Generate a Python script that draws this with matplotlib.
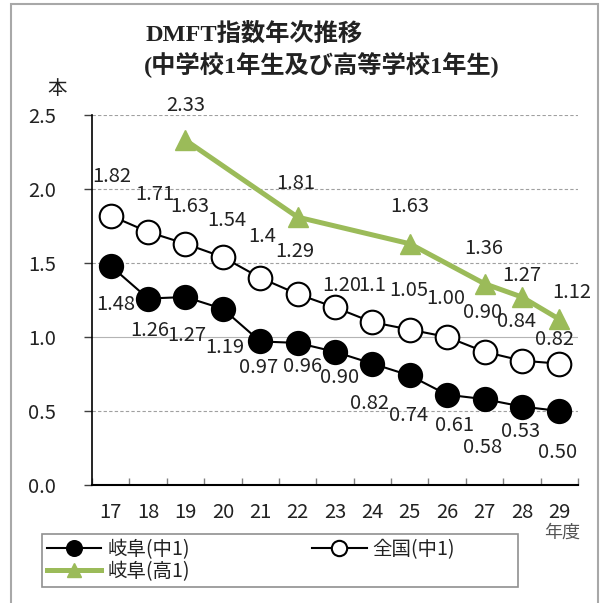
import matplotlib.pyplot as plt
from matplotlib.patches import Rectangle
from matplotlib.ticker import FixedLocator

years = ['17', '18', '19', '20', '21', '22', '23', '24', '25', '26', '27', '28', '29']

gifu_chu = [1.48, 1.26, 1.27, 1.19, 0.97, 0.96, 0.90, 0.82, 0.74, 0.61, 0.58, 0.53, 0.50]
gifu_chu_text = ['1.48', '1.26', '1.27', '1.19', '0.97', '0.96', '0.90', '0.82', '0.74', '0.61', '0.58', '0.53', '0.50']

zenkoku_chu = [1.82, 1.71, 1.63, 1.54, 1.4, 1.29, 1.20, 1.1, 1.05, 1.00, 0.90, 0.84, 0.82]
zenkoku_chu_text = ['1.82', '1.71', '1.63', '1.54', '1.4', '1.29', '1.20', '1.1', '1.05', '1.00', '0.90', '0.84', '0.82']

gifu_ko_years = ['19', '22', '25', '27', '28', '29']
gifu_ko = [2.33, 1.81, 1.63, 1.36, 1.27, 1.12]
gifu_ko_text = ['2.33', '1.81', '1.63', '1.36', '1.27', '1.12']

yticks = [0.0, 0.5, 1.0, 1.5, 2.0, 2.5]

# label offsets in pixels (dx right, dy down)
off_gifu_chu = [(5, 39), (2, 32), (1, 38), (2, 39), (-2, 26), (5, 24), (5, 26),
                (-3, 40), (-1, 40), (7, 31), (-2, 48), (-1, 25), (-2, 41)]
off_zenkoku = [(1, -39), (7, -37), (4, -37), (4, -37), (2, -41), (-3, -43), (7, -22),
               (0, -37), (-1, -39), (-1, -39), (-2, -39), (-5, -39), (-5, -24)]
off_gifu_ko = [(0, -35), (-2, -34), (0, -37), (-1, -35), (0, -22), (12, -27)]

green = '#9BBB59'
num_font = ['Noto Sans CJK JP', 'DejaVu Sans']
jp_font = ['Noto Sans CJK JP', 'DejaVu Sans']
title_font = ['Liberation Serif', 'Noto Sans CJK JP', 'DejaVu Sans']

plt.rcParams['font.family'] = jp_font

fig = plt.figure(figsize=(6.03, 6.03), dpi=100)
W = H = 603.0
ax = fig.add_axes([92 / W, 1 - 485 / H, (578 - 92) / W, (485 - 115) / H])

xpos = list(range(len(years)))
xko = [years.index(y) for y in gifu_ko_years]

ax.plot(xpos, gifu_chu, color='black', lw=1.5, marker='o', ms=17,
        mfc='black', mec='black', mew=1.2, zorder=4, label='岐阜(中1)')
ax.plot(xpos, zenkoku_chu, color='black', lw=1.5, marker='o', ms=17,
        mfc='white', mec='black', mew=1.5, zorder=4, label='全国(中1)')
ax.plot(xko, gifu_ko, color=green, lw=3.6, marker='^', ms=15,
        mfc=green, mec=green, zorder=5, label='岐阜(高1)')


def put_labels(xs, ys, texts, offs):
    for x, y, t, (dx, dy) in zip(xs, ys, texts, offs):
        ax.annotate(t, (x, y), xytext=(dx * 0.72, -dy * 0.72), textcoords='offset points',
                    ha='center', va='center', fontsize=14.5, family=num_font,
                    color='#222222', zorder=6)


put_labels(xpos, gifu_chu, gifu_chu_text, off_gifu_chu)
put_labels(xpos, zenkoku_chu, zenkoku_chu_text, off_zenkoku)
put_labels(xko, gifu_ko, gifu_ko_text, off_gifu_ko)

ax.set_xlim(-0.5, len(years) - 0.5)
ax.set_ylim(0, 2.5)
ax.set_yticks(yticks)
ax.set_yticklabels(['%.1f' % v for v in yticks], family=num_font, fontsize=14.5, color='#222222')
ax.set_xticks(xpos)
ax.set_xticklabels(years, family=num_font, fontsize=14.5, color='#222222')
ax.xaxis.set_minor_locator(FixedLocator([i - 0.5 for i in range(len(years) + 1)]))
ax.tick_params(axis='x', which='major', length=0, pad=12)
ax.tick_params(axis='x', which='minor', direction='in', length=5, width=1, color='#808080')
ax.tick_params(axis='y', which='major', direction='out', length=6, width=1, color='#404040', pad=20)

for s in ['top', 'right']:
    ax.spines[s].set_visible(False)
ax.spines['left'].set_linewidth(1.2)
ax.spines['bottom'].set_linewidth(1.5)

ax.yaxis.grid(True, color='#a0a0a0', lw=0.8, linestyle=(0, (3, 2)))
gl = ax.get_ygridlines()
gl[2].set_linestyle('-')
gl[2].set_color('#b4b4b4')
gl[0].set_visible(False)
ax.set_axisbelow(True)

fig.text(146 / W, 1 - 34 / H, 'DMFT指数年次推移', family=title_font, fontweight='bold',
         fontsize=17.5, ha='left', va='center', color='#222222')
fig.text(144 / W, 1 - 65 / H, '(中学校1年生及び高等学校1年生)', family=title_font, fontweight='bold',
         fontsize=17.5, ha='left', va='center', color='#222222')
fig.text(57 / W, 1 - 88 / H, '本', fontsize=14, ha='center', va='center', color='#222222')
fig.text(562 / W, 1 - 533 / H, '年度', fontsize=13, ha='center', va='center', color='#555555')

h, l = ax.get_legend_handles_labels()
order = [0, 2, 1]
leg = fig.legend([h[i] for i in order], [l[i] for i in order], ncol=2,
                 loc='upper left', bbox_to_anchor=(42 / W, 1 - 534 / H),
                 frameon=False, fontsize=14,
                 handlelength=2.8, handletextpad=0.3, columnspacing=6.3,
                 borderpad=0.25, labelspacing=0.05, markerscale=0.65, borderaxespad=0)
for t in leg.get_texts():
    t.set_color('#222222')

# legend frame and outer chart border
fig.patches.append(Rectangle((42 / W, 1 - 587 / H), (518 - 42) / W, (587 - 534) / H,
                             transform=fig.transFigure, fill=False,
                             edgecolor='#909090', lw=1.2))
fig.patches.append(Rectangle((11 / W, -0.05), (598 - 11) / W, 1.05 - 4 / H,
                             transform=fig.transFigure, fill=False,
                             edgecolor='#a8a8a8', lw=1.5))

fig.savefig('out.png', dpi=100)
